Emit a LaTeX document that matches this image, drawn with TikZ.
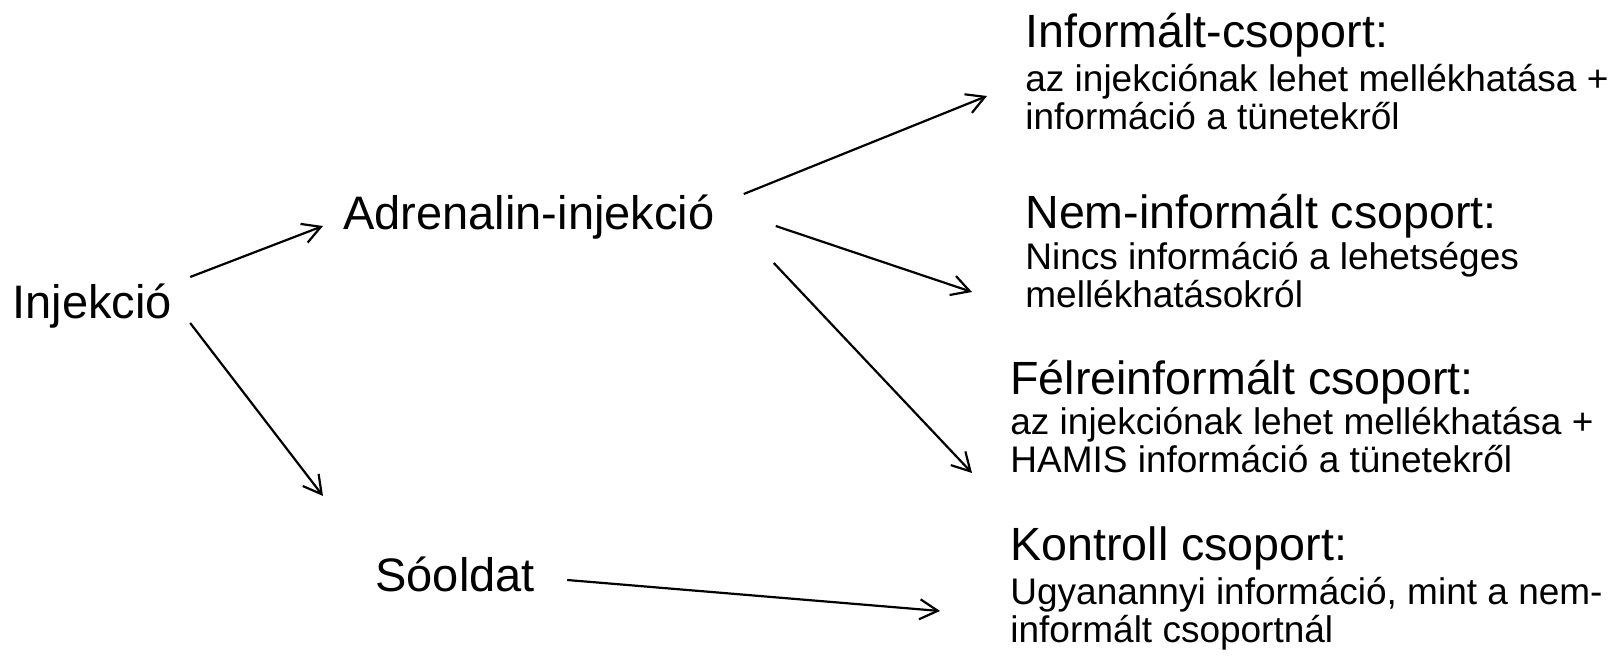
\documentclass[tikz,border=0pt]{standalone}
\usepackage{fontspec}
\setmainfont{Liberation Sans}
\usetikzlibrary{arrows.meta,calc}

\begin{document}
\begin{tikzpicture}[x=0.5pt, y=-0.5pt,
  mbox/.style={inner sep=0pt, anchor=base west, font=\fontsize{23.5}{28}\selectfont},
  tbox/.style={inner sep=0pt, anchor=base west, font=\fontsize{23.3}{28}\selectfont},
  dbox/.style={inner sep=0pt, anchor=base west, align=left,
               font=\fontsize{18.5}{19}\selectfont},
  farr/.style={-{Straight Barb[length=9pt,width=10pt]}, line width=1.1pt}
]
\useasboundingbox (0,0) rectangle (1613,657);

% Left column
\node[mbox] (inj) at (12,319)  {Injekció};
\node[mbox] (adr) at (343,230) {Adrenalin-injekció};
\node[mbox] (soo) at (375,592) {Sóoldat};

% Groups (description nodes sit on the baseline of their last line)
\node[tbox] (inf)  at (1025,48)  {Informált-csoport:};
\node[dbox] (infd) at (1025,130) {az injekciónak lehet mellékhatása +\\információ a tünetekről};
\node[tbox] (nem)  at (1025,229) {Nem-informált csoport:};
\node[dbox] (nemd) at (1025,308) {Nincs információ a lehetséges\\mellékhatásokról};
\node[tbox] (fel)  at (1010,395) {Félreinformált csoport:};
\node[dbox] (feld) at (1010,473) {az injekciónak lehet mellékhatása +\\HAMIS információ a tünetekről};
\node[tbox] (kon)  at (1010,560) {Kontroll csoport:};
\node[dbox] (kond) at (1010,643) {Ugyanannyi információ, mint a nem-\\informált csoportnál};

% Arrows
\draw[farr] ($(inj.base east)+(18,-42)$) -- ($(adr.base west)+(-20,-4)$);
\draw[farr] ($(inj.base east)+(18,4)$)   -- ($(soo.base west)+(-52,-96)$);
\draw[farr] ($(adr.base east)+(29,-36)$) -- ($(infd.base west)+(-38,-34)$);
\draw[farr] ($(adr.base east)+(61,-4)$)  -- ($(nemd.base west)+(-53,-16)$);
\draw[farr] ($(adr.base east)+(59,33)$)  -- ($(feld.base west)+(-38,0)$);
\draw[farr] ($(soo.base east)+(32,-12)$) -- ($(kond.base west)+(-70,-32)$);
\end{tikzpicture}
\end{document}
